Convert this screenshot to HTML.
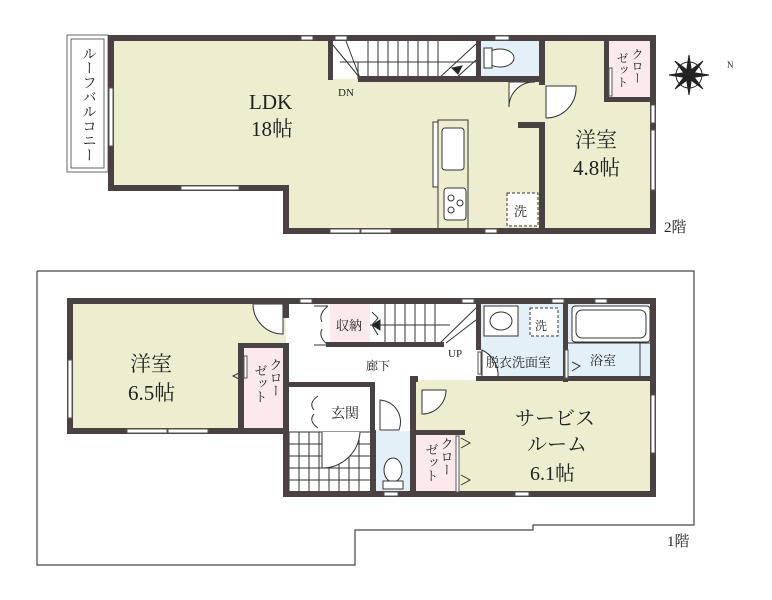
<!DOCTYPE html>
<html><head><meta charset="utf-8"><style>
body{margin:0;background:#fff}
svg{display:block}
text{font-family:"Liberation Serif","Noto Serif CJK JP",serif;fill:#222}
</style></head><body>
<svg width="772" height="600" viewBox="0 0 772 600" xmlns="http://www.w3.org/2000/svg">
<g fill="none" stroke="#666" stroke-width="1">
<rect x="67" y="35" width="41" height="137" fill="#fff"/>
<rect x="71" y="39" width="33" height="129" fill="#fff"/>
</g>
<text x="88" y="46" font-size="14.5" writing-mode="vertical-rl">ルーフバルコニー</text>

<polygon points="111,38 543,38 543,231 286,231 286,188 111,188" fill="#efedcf"/>
<rect x="543" y="38" width="110" height="193" fill="#efedcf"/>
<rect x="333" y="38" width="145" height="41" fill="#fff"/>
<rect x="478" y="38" width="63" height="41" fill="#e4f0f8"/>
<rect x="607" y="38" width="43" height="62" fill="#fbe9ec"/>
<g stroke="#333" stroke-width="1" fill="none">
<line x1="340" y1="62" x2="478" y2="62"/>
<path d="M358,62 V79 M368,41V79 M378,41V79 M388,41V79 M398,41V79 M408,41V79 M418,41V79 M428,41V79 M438,41V79"/>
<line x1="333" y1="45" x2="360" y2="78"/><line x1="346" y1="41" x2="360" y2="78"/>
<line x1="438" y1="79" x2="476" y2="44"/><line x1="455" y1="79" x2="476" y2="60"/>
<polygon points="452,68 462,66 458,74" fill="#222"/>
<ellipse cx="500" cy="58" rx="14" ry="9" fill="#fff"/>
<rect x="484" y="48" width="8" height="20" fill="#fff"/>
<path d="M509,82 V107 A25,25 0 0 1 535,82 Z" fill="#fff"/>
<path d="M546,86 H576 A30,30 0 0 1 546,118 Z" fill="#fff"/>
<rect x="433" y="122" width="5" height="65" fill="#fff"/>
<rect x="438" y="120" width="30" height="110" fill="#efedcf"/>
<rect x="442" y="128" width="22" height="42" rx="3" fill="#fff"/>
<rect x="444" y="188" width="22" height="32" rx="3" fill="#fff"/>
<circle cx="451" cy="198" r="3"/><circle cx="460" cy="203" r="3"/><circle cx="451" cy="210" r="3"/>
<rect x="507" y="193" width="31" height="33" stroke-dasharray="3,2" fill="#fff"/>
</g>
<text x="514" y="216" font-size="13">洗</text>
<g fill="#4a4242">
<rect x="108" y="35" width="548" height="6"/>
<rect x="108" y="35" width="6" height="156"/>
<rect x="108" y="185" width="181" height="6"/>
<rect x="283" y="185" width="6" height="49"/>
<rect x="283" y="228" width="373" height="6"/>
<rect x="650" y="35" width="6" height="199"/>
<rect x="328" y="35" width="5" height="45"/>
<rect x="358" y="76" width="185" height="6"/>
<rect x="476" y="35" width="5" height="46"/>
<rect x="539" y="35" width="6" height="50"/>
<rect x="539" y="122" width="6" height="112"/>
<rect x="518" y="122" width="24" height="6"/>
<rect x="604" y="35" width="5" height="67"/>
<rect x="604" y="97" width="50" height="5"/>
</g>
<g fill="#fff" stroke="#555" stroke-width="1">
<rect x="301" y="36" width="12" height="4"/><rect x="335" y="36" width="12" height="4"/><rect x="495" y="36" width="14" height="4"/>
<rect x="181" y="186" width="58" height="4"/><rect x="330" y="229" width="30" height="4"/><rect x="361" y="229" width="30" height="4"/><rect x="485" y="229" width="12" height="4"/>
<rect x="109" y="88" width="4" height="58"/><rect x="651" y="105" width="4" height="18"/><rect x="651" y="130" width="4" height="60"/>
<rect x="609" y="68" width="3" height="28"/>
</g>
<text x="249" y="109" font-size="21">LDK</text>
<text x="251" y="136" font-size="21">18帖</text>
<text x="338" y="96" font-size="11">DN</text>
<text x="575" y="147" font-size="21">洋室</text>
<text x="573" y="175" font-size="21">4.8帖</text>
<text x="622" y="52" font-size="12" writing-mode="vertical-rl">ゼット</text>
<text x="637" y="48" font-size="12" writing-mode="vertical-rl">クロー</text>
<text x="664" y="232" font-size="15">2階</text>
<g stroke="#222" stroke-width="1" fill="#222">
<circle cx="689" cy="75" r="13" fill="none"/>
<polygon points="689,55 692,75 689,95 686,75"/>
<polygon points="669,75 689,72 709,75 689,78"/>
<polygon points="675,61 691,73 703,89 687,77"/>
<polygon points="703,61 691,77 675,89 687,73"/>
</g>
<text x="727" y="68" font-size="9">N</text>

<polyline points="37,271 694,271 694,525 533,525 533,530 355,530 355,565 37,565 37,271" fill="none" stroke="#444" stroke-width="1.2"/>
<rect x="70" y="301" width="216" height="130" fill="#efedcf"/>
<rect x="286" y="301" width="190" height="90" fill="#fff"/>
<rect x="241" y="346" width="42" height="84" fill="#fbe9ec"/>
<rect x="330" y="301" width="40" height="44" fill="#fbe9ec"/>
<rect x="478" y="301" width="177" height="78" fill="#e4f0f8"/>
<rect x="413" y="380" width="242" height="114" fill="#efedcf"/>
<rect x="416" y="431" width="40" height="62" fill="#fbe9ec"/>
<rect x="376" y="431" width="36" height="62" fill="#e4f0f8"/>
<rect x="286" y="386" width="88" height="47" fill="#fff"/>
<g stroke="#333" stroke-width="1" fill="none">
<rect x="289" y="432" width="85" height="60" fill="#fff"/>
<path d="M289,444H374 M289,456H374 M289,468H374 M289,480H374 M299,432V492 M309,432V492 M319,432V492 M329,432V492 M339,432V492 M349,432V492 M359,432V492"/>
<path d="M322,432 V468 A38,38 0 0 0 360,432" fill="#fff"/>
<line x1="370" y1="325" x2="450" y2="325"/>
<path d="M385,304V343 M395,304V343 M405,304V343 M415,304V343 M425,304V343 M435,304V343"/>
<line x1="440" y1="343" x2="476" y2="308"/><line x1="446" y1="343" x2="476" y2="320"/>
<polygon points="372,325 380,320 380,330" fill="#222"/>
<path d="M372,312 L378,318 L372,325 L378,335" />
<path d="M314,306 h14 M314,345 h14 M328,306 q-10,8 -6,16 M328,345 q-10,-8 -6,-16"/>
<path d="M253,304 H283 V334 A30,30 0 0 1 253,304 Z" fill="#fff"/>
<path d="M482,350 V378 H498 A28,28 0 0 0 482,350 Z" fill="#fff"/>
<path d="M422,390 H446 A24,24 0 0 1 422,414 Z" fill="#fff"/>
<path d="M380,400 A22,22 0 0 1 399,430 H380 Z" fill="#fff"/>
<path d="M318,396 q-10,7 -4,14 M318,428 q-10,-7 -4,-14"/>
<rect x="484" y="306" width="34" height="30" fill="#fff"/>
<ellipse cx="501" cy="321" rx="11" ry="9"/>
<rect x="530" y="308" width="28" height="28" stroke-dasharray="3,2" fill="#fff"/>
<rect x="572" y="306" width="78" height="36" rx="3" fill="#fff"/>
<rect x="576" y="310" width="70" height="28" rx="6"/>
<line x1="567" y1="343" x2="655" y2="343"/>
<line x1="640" y1="343" x2="640" y2="378"/>
<ellipse cx="393" cy="470" rx="9" ry="12" fill="#fff"/>
<rect x="383" y="481" width="20" height="8" fill="#fff"/>
<polyline points="243,371 233,376 243,381"/>
<polyline points="572,362 580,366 572,371"/>
<polyline points="461,438 470,443 461,448"/>
<polyline points="461,475 470,480 461,485"/>
</g>
<text x="535" y="330" font-size="12">洗</text>
<g fill="#4a4242">
<rect x="67" y="298" width="589" height="6"/>
<rect x="67" y="298" width="6" height="136"/>
<rect x="67" y="428" width="222" height="6"/>
<rect x="238" y="343" width="6" height="90"/>
<rect x="238" y="343" width="48" height="5"/>
<rect x="283" y="298" width="6" height="20"/>
<rect x="283" y="343" width="6" height="154"/>
<rect x="326" y="342" width="118" height="5"/>
<rect x="476" y="298" width="5" height="52"/>
<rect x="563" y="298" width="5" height="84"/>
<rect x="476" y="376" width="180" height="5"/>
<rect x="650" y="298" width="6" height="199"/>
<rect x="410" y="376" width="6" height="121"/>
<rect x="410" y="376" width="8" height="6"/>
<rect x="283" y="382" width="92" height="5"/>
<rect x="370" y="382" width="5" height="53"/>
<rect x="370" y="430" width="6" height="66"/>
<rect x="413" y="430" width="52" height="5"/>
<rect x="283" y="491" width="373" height="6"/>
</g>
<g fill="#fff" stroke="#555" stroke-width="1">
<rect x="300" y="299" width="12" height="4"/><rect x="462" y="299" width="12" height="4"/><rect x="552" y="299" width="12" height="4"/><rect x="595" y="299" width="12" height="4"/>
<rect x="127" y="429" width="40" height="4"/><rect x="168" y="429" width="40" height="4"/>
<rect x="68" y="360" width="4" height="58"/><rect x="651" y="395" width="4" height="58"/>
<rect x="384" y="492" width="14" height="4"/><rect x="515" y="492" width="14" height="4"/>
<rect x="244" y="356" width="3" height="22"/><rect x="565" y="350" width="3" height="28"/><rect x="478" y="352" width="3" height="22"/><rect x="456" y="436" width="3" height="56"/>
</g>
<text x="130" y="371" font-size="21">洋室</text>
<text x="128" y="400" font-size="21">6.5帖</text>
<text x="260" y="364" font-size="13" writing-mode="vertical-rl">ゼット</text>
<text x="275" y="358" font-size="13" writing-mode="vertical-rl">クロー</text>
<text x="336" y="330" font-size="13">収納</text>
<text x="366" y="370" font-size="12">廊下</text>
<text x="448" y="357" font-size="11">UP</text>
<text x="486" y="367" font-size="13">脱衣洗面室</text>
<text x="590" y="365" font-size="13">浴室</text>
<text x="331" y="418" font-size="14">玄関</text>
<text x="515" y="425" font-size="20">サービス</text>
<text x="527" y="451" font-size="20">ルーム</text>
<text x="530" y="480" font-size="20">6.1帖</text>
<text x="431" y="443" font-size="13" writing-mode="vertical-rl">ゼット</text>
<text x="446" y="437" font-size="13" writing-mode="vertical-rl">クロー</text>
<text x="667" y="546" font-size="15">1階</text>
</svg>
</body></html>
